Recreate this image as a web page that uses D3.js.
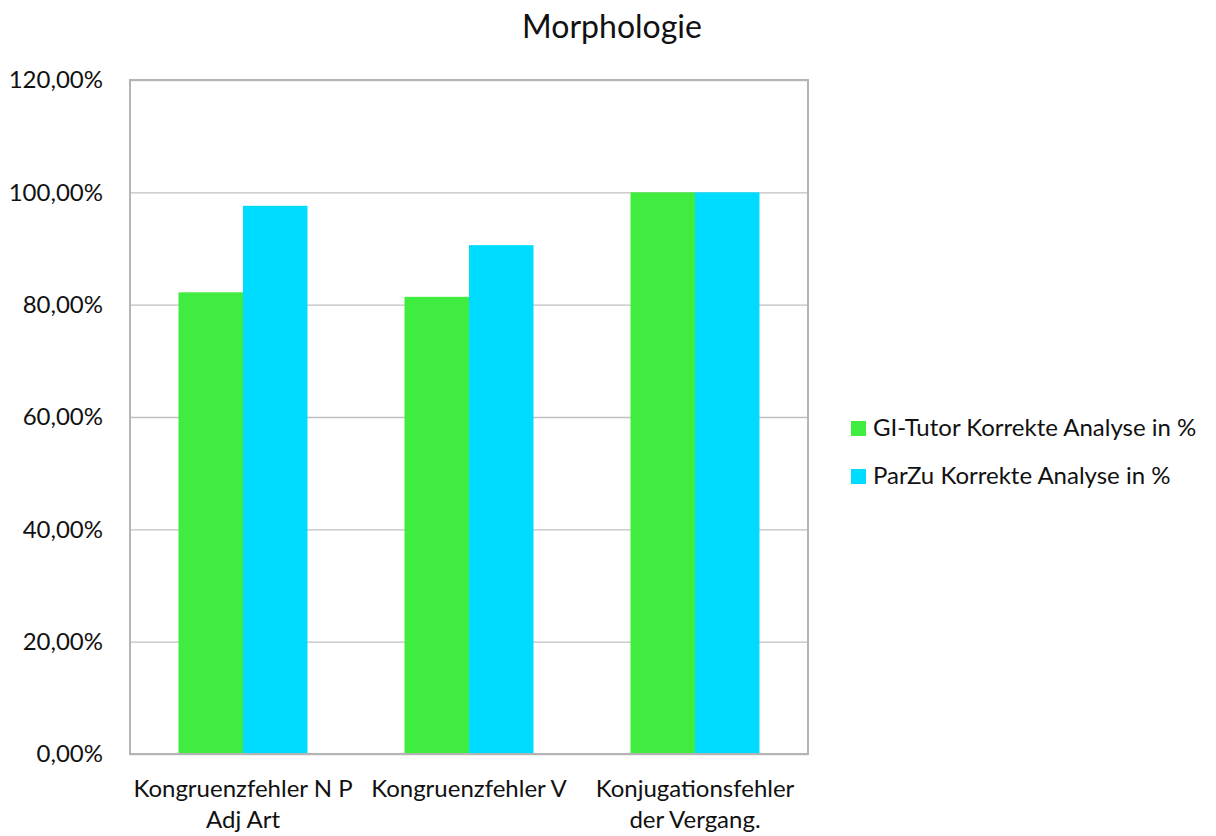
<!DOCTYPE html>
<html>
<head>
<meta charset="utf-8">
<script src="https://cdn.jsdelivr.net/npm/d3@7"></script>
<style>
  html, body { margin: 0; padding: 0; background: #fff; }
  svg { display: block; }
  text { font-family: Lato, "Open Sans", sans-serif; fill: #111; }
</style>
</head>
<body>
<svg id="chart" width="1216" height="836"></svg>
<script>
// Morphologie: share of correct analyses per error type
const categories = [
  ["Kongruenzfehler N P", "Adj Art"],
  ["Kongruenzfehler V"],
  ["Konjugationsfehler", "der Vergang."]
];
const categoryKeys = ["Kongruenzfehler N P Adj Art", "Kongruenzfehler V", "Konjugationsfehler der Vergang."];
const seriesNames = ["GI-Tutor Korrekte Analyse in %", "ParZu Korrekte Analyse in %"];
const giTutorValues = [82.2, 81.4, 100];
const parZuValues = [97.6, 90.6, 100];
const seriesColors = ["#3FEC3F", "#00DCFF"];
const yTicks = [0, 20, 40, 60, 80, 100, 120];

const svg = d3.select("#chart");
const plot = { left: 130, right: 808, top: 80, bottom: 754 };
const fontSize = 24;

const x0 = d3.scaleBand().domain(categoryKeys).range([plot.left, plot.right]).padding(0);
const x1 = d3.scaleBand().domain(seriesNames).range([0, x0.bandwidth()]).paddingInner(0).paddingOuter(0.752);
const y = d3.scaleLinear().domain([0, 120]).range([plot.bottom, plot.top]);

const fmt = v => d3.format(".2f")(v).replace(".", ",") + "%";

// horizontal gridlines
svg.append("g")
  .attr("transform", `translate(${plot.left},0)`)
  .call(d3.axisLeft(y).tickValues(yTicks).tickSize(-(plot.right - plot.left)).tickFormat(""))
  .call(g => g.select(".domain").remove())
  .call(g => g.selectAll("line").attr("stroke", "#bfbfbf").attr("stroke-width", 1.3));

// bars
const series = [giTutorValues, parZuValues];
const groups = svg.append("g").selectAll("g")
  .data(categoryKeys)
  .join("g")
  .attr("transform", d => `translate(${x0(d)},0)`);

groups.selectAll("rect")
  .data((d, i) => seriesNames.map((s, j) => ({ s, v: series[j][i], c: seriesColors[j] })))
  .join("rect")
  .attr("x", d => x1(d.s))
  .attr("width", x1.bandwidth())
  .attr("y", d => y(d.v))
  .attr("height", d => y(0) - y(d.v))
  .attr("fill", d => d.c);

// plot frame
svg.append("rect")
  .attr("x", plot.left).attr("y", plot.top)
  .attr("width", plot.right - plot.left).attr("height", plot.bottom - plot.top)
  .attr("fill", "none").attr("stroke", "#b4b4b4").attr("stroke-width", 2);

// y tick labels
svg.append("g")
  .attr("transform", `translate(${plot.left},0)`)
  .call(d3.axisLeft(y).tickValues(yTicks).tickSize(0).tickPadding(27).tickFormat(fmt))
  .call(g => g.select(".domain").remove())
  .call(g => g.selectAll("text")
    .style("font-family", "Lato, 'Open Sans', sans-serif")
    .attr("font-size", fontSize).attr("fill", "#111"));

// category labels
const xl = svg.append("g").selectAll("text")
  .data(categories)
  .join("text")
  .attr("x", (d, i) => x0(categoryKeys[i]) + x0.bandwidth() / 2)
  .attr("y", 797)
  .attr("text-anchor", "middle")
  .attr("font-size", fontSize);
xl.selectAll("tspan")
  .data(d => d)
  .join("tspan")
  .attr("x", function () { return d3.select(this.parentNode).attr("x"); })
  .attr("dy", (d, i) => i === 0 ? 0 : 31)
  .text(d => d);

// title
svg.append("text")
  .attr("x", 612).attr("y", 38)
  .attr("text-anchor", "middle")
  .attr("font-size", 32)
  .text("Morphologie");

// legend
const legend = svg.append("g").selectAll("g")
  .data(seriesNames)
  .join("g")
  .attr("transform", (d, i) => `translate(851,${421 + i * 48})`);
legend.append("rect")
  .attr("width", 15).attr("height", 15)
  .attr("fill", (d, i) => seriesColors[i]);
legend.append("text")
  .attr("x", 22).attr("y", 15)
  .attr("font-size", fontSize)
  .text(d => d);
</script>
</body>
</html>
